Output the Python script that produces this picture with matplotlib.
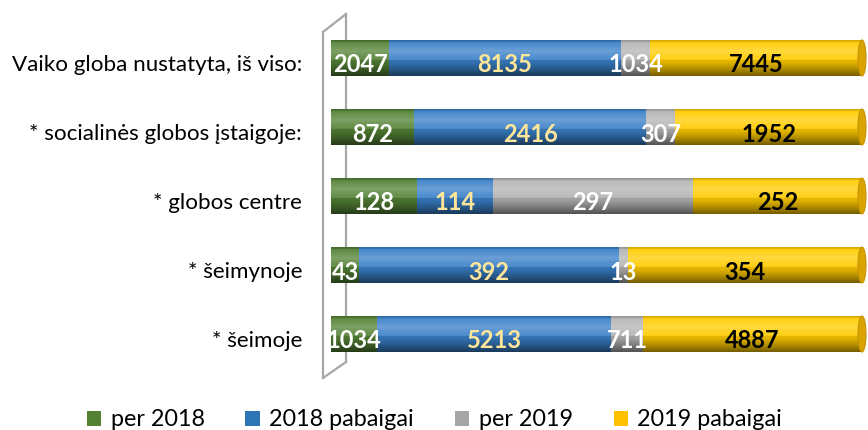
import numpy as np
import matplotlib
matplotlib.use("Agg")
import matplotlib.pyplot as plt
from matplotlib.lines import Line2D
from matplotlib.patches import Rectangle, Ellipse, Patch

categories = ["Vaiko globa nustatyta, iš viso:", "* socialinės globos įstaigoje:",
              "* globos centre", "* šeimynoje", "* šeimoje"]
series_names = ["per 2018", "2018 pabaigai", "per 2019", "2019 pabaigai"]
per_2018 = [2047, 872, 128, 43, 1034]
pab_2018 = [8135, 2416, 114, 392, 5213]
per_2019 = [1034, 307, 297, 13, 711]
pab_2019 = [7445, 1952, 252, 354, 4887]

colors = ["#548235", "#3A80C8", "#B4B4B4", "#FFCC00"]
legend_colors = ["#548235", "#2E75B6", "#A5A5A5", "#FFC000"]
label_colors = ["white", "#FFE699", "white", "black"]

W, H = 868, 430
fig = plt.figure(figsize=(W / 100, H / 100), dpi=100)
plt.rcParams['font.family'] = ['Lato', 'DejaVu Sans']

# axes geometry (pixels)
x0, x1 = 331, 862
yc0, dy = 58, 69
ytop = yc0 - dy / 2
ybot = yc0 + 4 * dy + dy / 2
ax = fig.add_axes([x0 / W, 1 - ybot / H, (x1 - x0) / W, (ybot - ytop) / H])
ax.set_xlim(0, 100)
ax.set_ylim(4.5, -0.5)
ax.axis("off")

def fp(x, y):
    return x / W, 1 - y / H
for (xa, ya), (xb, yb) in [((323, 32), (323, 378)), ((346, 14), (346, 362)),
                           ((323, 32), (346, 14)), ((323, 378), (346, 362))]:
    (fxa, fya), (fxb, fyb) = fp(xa, ya), fp(xb, yb)
    fig.add_artist(Line2D([fxa, fxb], [fya, fyb], color="#A6A6A6", lw=1.6,
                          transform=fig.transFigure, zorder=0))

data = np.array([per_2018, pab_2018, per_2019, pab_2019], dtype=float)
totals = data.sum(axis=0)
pct = data / totals * 100
bh = 36 / dy
ypos = np.arange(len(categories))

# gradient overlay for cylinder look
n = 100
t = np.linspace(0, 1, n)  # 0 top -> 1 bottom
grad = np.zeros((n, 2, 4))
hl = np.clip(1 - np.abs(t - 0.3) / 0.32, 0, 1) * 0.25
dk = np.clip((t - 0.45) / 0.55, 0, 1) ** 1.3 * 0.55
top_dk = np.clip((0.08 - t) / 0.08, 0, 1) * 0.15
for j in range(2):
    a = hl + dk + top_dk
    rgb = np.where((hl > dk + top_dk)[:, None], 1.0, 0.0)
    grad[:, j, :3] = rgb
    grad[:, j, 3] = np.clip(a, 0, 1)

for i in ypos:
    left = 0
    for s in range(4):
        ax.barh(i, pct[s, i], left=left, height=bh, color=colors[s], zorder=2,
                linewidth=0)
        left += pct[s, i]
    clip = Rectangle((0, i - bh / 2), 100, bh, transform=ax.transData)
    im = ax.imshow(grad, extent=(0, 100, i + bh / 2, i - bh / 2), aspect="auto",
                   zorder=3, interpolation="bilinear")
    im.set_clip_path(clip)
    capw = 8 / (x1 - x0) * 100
    cap = Ellipse((100, i), capw, bh, facecolor="#D9A300", edgecolor="#C89400",
                  lw=0.8, zorder=4, clip_on=False)
    ax.add_patch(cap)
    capl = Ellipse((0.6, i), capw * 0.8, bh, facecolor=colors[0], zorder=1.5,
                   clip_on=False, lw=0)
    ax.add_patch(capl)

# value labels
yoff = 7 / dy
for i in ypos:
    left = 0
    for s in range(4):
        v = int(data[s, i])
        ax.text(left + pct[s, i] / 2, i + yoff, f"{v}", ha="center", va="center",
                color=label_colors[s], fontsize=17, fontweight="bold", zorder=6)
        left += pct[s, i]

# category labels
for i, c in enumerate(categories):
    fig.text(302 / W, 1 - (yc0 + i * dy + 7) / H, c, ha="right", va="center",
             fontsize=16.1, color="black")

handles = [Patch(facecolor=c, edgecolor="none") for c in legend_colors]
fig.legend(handles, series_names, loc="center", bbox_to_anchor=(434.5 / W, 1 - 420 / H),
           ncol=4, frameon=False, fontsize=16.8, handlelength=0.62, handleheight=0.62,
           handletextpad=0.4, columnspacing=1.75)

fig.savefig("out.png", dpi=100, facecolor="white")
